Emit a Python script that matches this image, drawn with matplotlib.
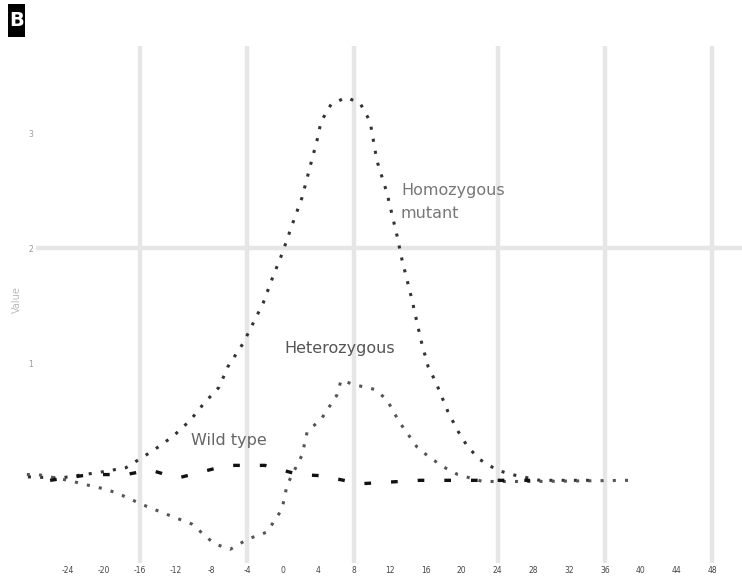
import matplotlib
matplotlib.use("Agg")
import matplotlib.pyplot as plt
from matplotlib.patches import Rectangle

# ---- data ----
x_a = [-1.12, -0.22, 0.89, 1.62, 2.18, 2.57, 2.96, 3.41, 3.80, 4.22, 4.47, 4.89, 5.45, 5.70,
       5.98, 6.26, 6.54, 6.79, 6.96, 7.07, 7.35, 7.77, 8.16, 8.44, 8.63, 8.91, 9.19, 9.33,
       9.61, 9.86, 10.06, 10.28, 10.61, 10.89, 11.17, 11.51, 11.98, 12.40, 13.18, 14.78]
y_a = [0.01, 0.00, 0.05, 0.09, 0.20, 0.28, 0.37, 0.50, 0.65, 0.79, 0.97, 1.17, 1.52, 1.73,
       1.95, 2.20, 2.44, 2.74, 2.94, 3.10, 3.25, 3.31, 3.26, 3.10, 2.76, 2.48, 2.11, 1.90,
       1.55, 1.20, 0.97, 0.83, 0.58, 0.41, 0.27, 0.16, 0.07, 0.03, -0.02, -0.02]

x_b = [-1.15, -0.84, 0.00, 0.53, 1.09, 1.51, 2.07, 2.71, 3.46, 4.08, 4.53, 5.03, 5.56, 5.98,
       6.12, 6.54, 6.68, 7.09, 7.51, 7.63, 8.02, 8.58, 8.91, 9.25, 9.75, 10.06, 10.47, 10.89,
       11.59, 12.99, 15.70]
y_b = [0.03, 0.03, -0.02, -0.06, -0.10, -0.15, -0.23, -0.31, -0.40, -0.57, -0.62, -0.53, -0.47,
       -0.27, -0.06, 0.20, 0.40, 0.52, 0.72, 0.85, 0.81, 0.77, 0.68, 0.49, 0.27, 0.19, 0.10,
       0.03, -0.03, -0.03, -0.02]

x_c = [-0.50, 0.61, 1.62, 2.29, 3.07, 4.44, 5.50, 6.45, 7.09, 8.16, 9.83, 12.91]
y_c = [-0.02, 0.03, 0.03, 0.07, 0.00, 0.11, 0.11, 0.03, 0.02, -0.05, -0.02, -0.02]

x_ticks = list(range(0, 19))
x_ticklabels = [str(v) for v in range(-24, 52, 4)][:19]
x_grid = [2, 5, 8, 12, 15, 18]
y_ticks = [1, 2, 3]
y_ticklabels = ["1", "2", "3"]

label_a = "Homozygous\nmutant"
label_b = "Heterozygous"
label_c = "Wild type"

# ---- figure ----
fig = plt.figure(figsize=(7.42, 5.82), dpi=100)
ax = fig.add_axes([36 / 742, 1 - 563 / 582, 1 - 36 / 742, (563 - 46) / 582])
ax.set_xlim(-0.894, 18.83)
ax.set_ylim(-0.739, 3.757)

for s in ax.spines.values():
    s.set_visible(False)

for g in x_grid:
    ax.axvline(g, color="#e6e6e6", lw=3.2, zorder=0)
ax.axhline(2, color="#e6e6e6", lw=3.2, zorder=0)

ax.plot(x_a, y_a, color="#333333", lw=2.2, ls=(0, (1, 3)), clip_on=False, zorder=3)
ax.plot(x_b, y_b, color="#555555", lw=2.2, ls=(0, (1, 3)), clip_on=False, zorder=3)
ax.plot(x_c, y_c, color="#111111", lw=2.4, ls=(0, (2, 6)), clip_on=False, zorder=3)

ax.set_xticks(x_ticks)
ax.set_xticklabels(x_ticklabels, fontsize=5.5, color="#444444")
ax.set_yticks(y_ticks)
ax.set_yticklabels(y_ticklabels, fontsize=5.5, color="#999999")
ax.tick_params(axis="both", length=0, pad=2)

ax.text(9.3, 2.40, label_a, fontsize=11.5, color="#777777", va="center", ha="left",
        linespacing=1.6)
ax.text(6.05, 1.13, label_b, fontsize=11.5, color="#555555", va="center", ha="left")
ax.text(3.45, 0.33, label_c, fontsize=11.5, color="#666666", va="center", ha="left")

fig.text(17 / 742, 1 - 300 / 582, "Value", rotation=90, fontsize=7, color="#bbbbbb",
         ha="center", va="center")

fig.patches.append(Rectangle((8 / 742, 1 - 37 / 582), 17 / 742, 33 / 582,
                             transform=fig.transFigure, fc="black", ec="none"))
fig.text(16.5 / 742, 1 - 21 / 582, "B", fontsize=14, fontweight="bold", color="white",
         ha="center", va="center")

fig.savefig("out.png", dpi=100, facecolor="white")
